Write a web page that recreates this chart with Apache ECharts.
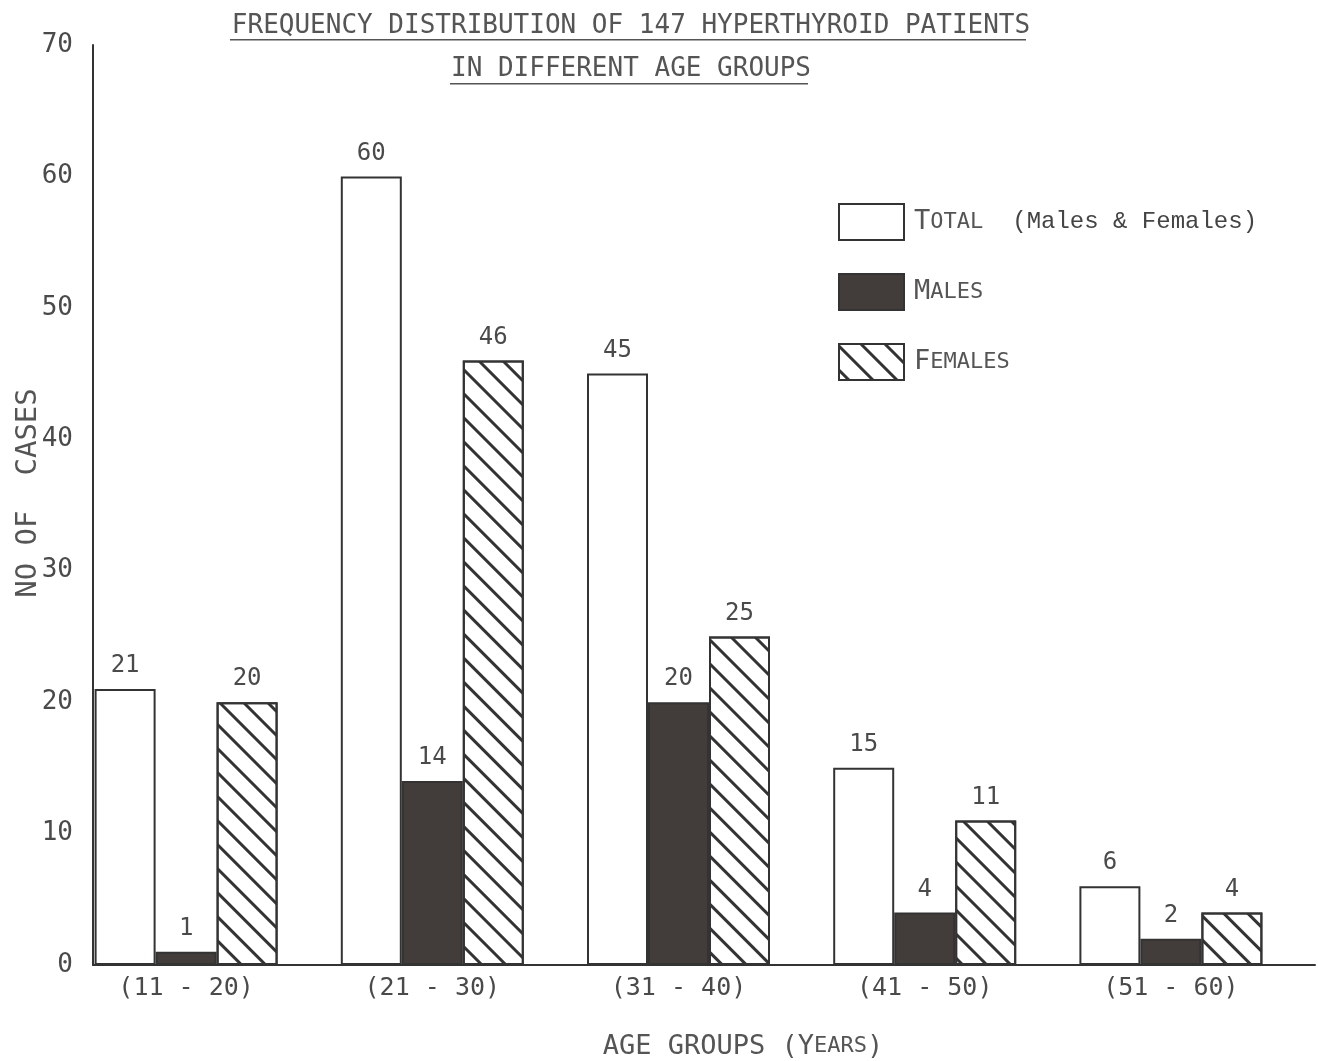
<!DOCTYPE html>
<html><head><meta charset="utf-8">
<script src="https://cdn.jsdelivr.net/npm/echarts@6/dist/echarts.min.js"></script>
<style>html,body{margin:0;padding:0;background:#fff}#c{width:1318px;height:1061px}</style>
</head><body><div id="c"></div>
<script>
const categories = ['(11 - 20)', '(21 - 30)', '(31 - 40)', '(41 - 50)', '(51 - 60)'];
const totalValues = [21, 60, 45, 15, 6];
const maleValues = [1, 14, 20, 4, 2];
const femaleValues = [20, 46, 25, 11, 4];
const yTicks = [0, 10, 20, 30, 40, 50, 60, 70];

const FONT = 'DejaVu Sans Mono';
const TXT = '#4a4a4a';
const LINE = '#333';

const chart = echarts.init(document.getElementById('c'), null, {renderer: 'canvas'});
const labelCfg = {show: true, position: 'top', distance: 11, fontFamily: FONT, fontSize: 24, color: TXT};
const common = {type: 'bar', xAxisIndex: 0, yAxisIndex: 0, barWidth: 61, barGap: '0%', label: labelCfg};

chart.setOption({
  backgroundColor: '#fff',
  animation: false,
  title: [{
    text: 'FREQUENCY DISTRIBUTION OF 147 HYPERTHYROID PATIENTS\nIN DIFFERENT AGE GROUPS',
    left: 626, top: 0, textAlign: 'center',
    textStyle: {fontFamily: FONT, fontSize: 26, fontWeight: 'normal', color: '#555', lineHeight: 43, align: 'center'}
  }, {
    text: '{a|AGE GROUPS (Y}{b|EARS}{a|)}',
    left: 738, top: 1028, textAlign: 'center',
    textStyle: {rich: {
      a: {fontFamily: FONT, fontSize: 27, color: '#555', fontWeight: 'normal'},
      b: {fontFamily: FONT, fontSize: 22, color: '#555', fontWeight: 'normal'}
    }}
  }],
  graphic: [
    {type: 'rect', shape: {x: 230, y: 39, width: 796, height: 1.5}, style: {fill: '#555'}, silent: true},
    {type: 'rect', shape: {x: 450, y: 83, width: 358, height: 1.5}, style: {fill: '#555'}, silent: true}
  ],
  legend: {
    orient: 'vertical', left: 838, top: 203, padding: 0, itemWidth: 65, itemHeight: 36, itemGap: 32,
    icon: 'rect',
    data: ['Total', 'Males', 'Females'],
    formatter: function (n) {
      if (n === 'Total') return '{big|T}{small|OTAL}{mono|(Males & Females)}';
      if (n === 'Males') return '{big|M}{small|ALES}';
      return '{big|F}{small|EMALES}';
    },
    textStyle: {
      padding: [0, 0, 0, 5],
      rich: {
        big: {fontFamily: FONT, fontSize: 27, color: '#555'},
        small: {fontFamily: FONT, fontSize: 22, color: '#555'},
        mono: {fontFamily: 'Liberation Mono', fontSize: 24, color: '#444', padding: [0, 0, 0, 29]}
      }
    }
  },
  grid: [
    {left: 63, right: 24, top: 45, bottom: 96, outerBoundsMode: 'none', containLabel: false},
    {left: 93, right: 3, top: 45, bottom: 96, outerBoundsMode: 'none', containLabel: false}
  ],
  xAxis: [{
    type: 'category', gridIndex: 0, data: categories,
    axisLine: {show: false}, axisTick: {show: false},
    axisLabel: {fontFamily: FONT, fontSize: 25, color: TXT, margin: 11}
  }, {
    type: 'value', gridIndex: 1, min: 0, max: 1,
    axisLine: {show: true, lineStyle: {color: LINE, width: 2}},
    axisTick: {show: false}, axisLabel: {show: false}, splitLine: {show: false}
  }],
  yAxis: [{
    type: 'value', gridIndex: 0, min: 0, max: 70, interval: 10, show: false, splitLine: {show: false}
  }, {
    type: 'value', gridIndex: 1, min: 0, max: 70, interval: 10,
    axisLine: {show: true, lineStyle: {color: LINE, width: 2}},
    axisTick: {show: false}, splitLine: {show: false},
    axisLabel: {fontFamily: FONT, fontSize: 26, color: TXT, margin: 20,
      formatter: v => yTicks.includes(v) ? String(v) : ''},
    name: 'NO OF  CASES', nameLocation: 'middle', nameRotate: 90, nameGap: 50,
    nameMoveOverlap: false,
    nameTextStyle: {fontFamily: FONT, fontSize: 29, color: '#555', padding: [0, 0, 0, 24]}
  }],
  series: [
    Object.assign({}, common, {name: 'Total', data: totalValues,
      itemStyle: {color: '#fff', borderColor: LINE, borderWidth: 2}}),
    Object.assign({}, common, {name: 'Males', data: maleValues,
      itemStyle: {color: '#423d3b', borderColor: LINE, borderWidth: 2}}),
    Object.assign({}, common, {name: 'Females', data: femaleValues,
      itemStyle: {color: '#fff', borderColor: LINE, borderWidth: 2,
        decal: {symbol: 'rect', symbolSize: 1, color: '#333', dashArrayX: [1, 0], dashArrayY: [2.2, 13.8], rotation: Math.PI / 4}}})
  ]
});
</script>
</body></html>
